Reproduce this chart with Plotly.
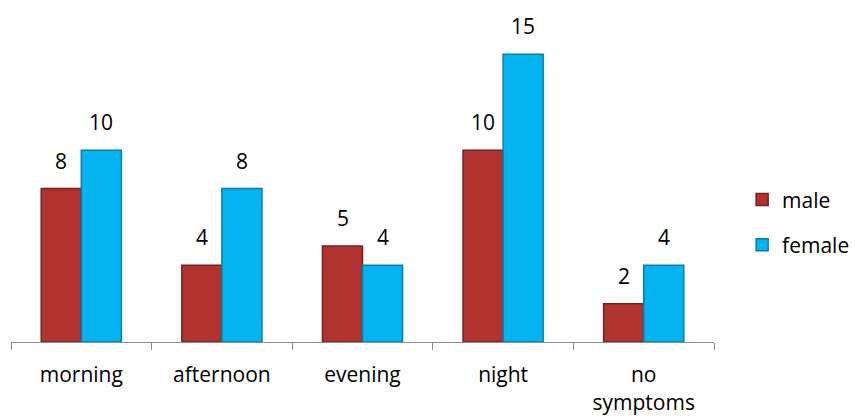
import plotly.graph_objects as go

categories = ["morning", "afternoon", "evening", "night", "no<br>symptoms"]
male = [8, 4, 5, 10, 2]
female = [10, 8, 4, 15, 4]

MALE_FILL = "#B13330"
MALE_EDGE = "#7A1F1D"
FEMALE_FILL = "#05B3F0"
FEMALE_EDGE = "#067FAE"
FONT = "Open Sans"
SIZE = 21

fig = go.Figure()
fig.add_trace(go.Bar(
    name="male", x=categories, y=male, legendgroup="male",
    marker=dict(color=MALE_FILL, line=dict(color=MALE_EDGE, width=1.5)),
))
fig.add_trace(go.Bar(
    name="female", x=categories, y=female, legendgroup="female",
    marker=dict(color=FEMALE_FILL, line=dict(color=FEMALE_EDGE, width=1.5)),
))

# value labels above each bar
for series, shift in ((male, -20), (female, 20)):
    for cat, val in zip(categories, series):
        fig.add_annotation(
            x=cat, y=val, text=str(val), showarrow=False,
            xshift=shift, yshift=12, yanchor="bottom",
            font=dict(family=FONT, size=SIZE, color="#000000"),
        )

fig.update_layout(
    width=855, height=419,
    margin=dict(l=11, r=141, t=35, b=77, autoexpand=False),
    paper_bgcolor="white", plot_bgcolor="white",
    barmode="group", bargap=0.43, bargroupgap=0,
    showlegend=True,
    legend=dict(
        x=1.04, y=0.39, xanchor="left", yanchor="middle",
        font=dict(family=FONT, size=SIZE, color="#000000"),
        itemwidth=30, traceorder="grouped", tracegroupgap=15,
    ),
    font=dict(family=FONT, size=SIZE, color="#000000"),
)
fig.update_xaxes(
    showline=True, linecolor="#8C8C8C", linewidth=1,
    ticks="outside", tickson="boundaries", ticklen=7,
    tickcolor="#8C8C8C", showgrid=False, ticklabelstandoff=14,
    tickfont=dict(family=FONT, size=SIZE, color="#000000"),
)
fig.update_yaxes(visible=False, range=[0, 16])

fig.write_html("out.html")
